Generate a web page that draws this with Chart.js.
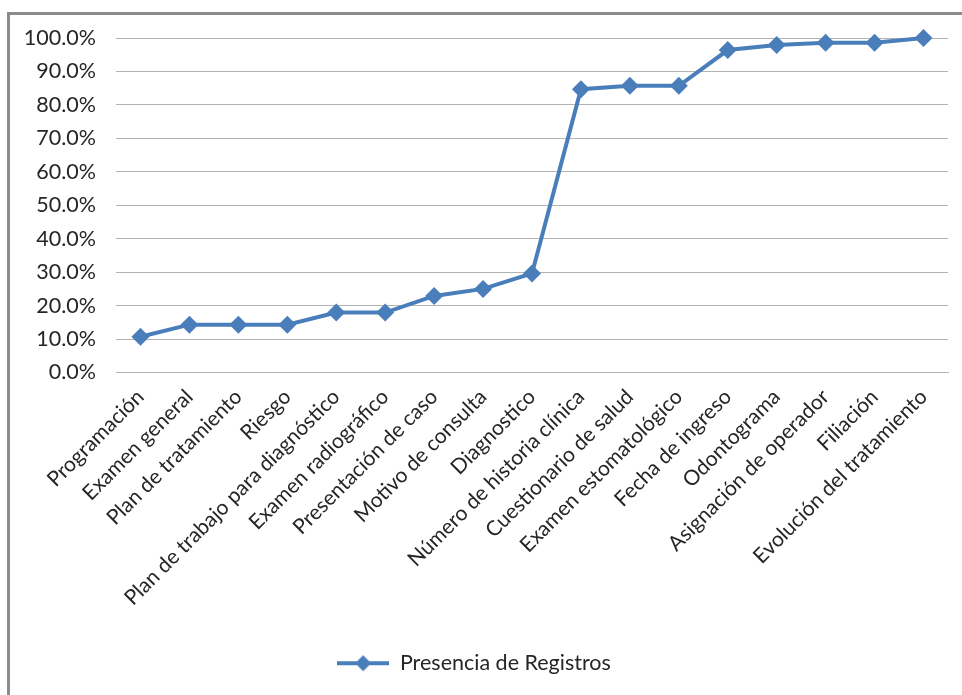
<!DOCTYPE html>
<html>
<head>
<meta charset="utf-8">
<script src="https://cdn.jsdelivr.net/npm/chart.js@4"></script>
<style>
  html, body { margin: 0; padding: 0; background: #fff; overflow: hidden; }
  #frame {
    position: absolute; left: 7px; top: 12px; width: 1000px; height: 720px;
    border-left: 3px solid #8c8c8c; border-top: 3px solid #8c8c8c;
  }
  #chart { position: absolute; left: 0; top: 0; }
</style>
</head>
<body>
<div id="frame"></div>
<canvas id="chart" width="962" height="695"></canvas>
<script>
const categories = [
  "Programación", "Examen general", "Plan de tratamiento", "Riesgo",
  "Plan de trabajo para diagnóstico", "Examen radiográfico", "Presentación de caso",
  "Motivo de consulta", "Diagnostico", "Número de historia clínica",
  "Cuestionario de salud", "Examen estomatológico", "Fecha de ingreso",
  "Odontograma", "Asignación de operador", "Filiación", "Evolución del tratamiento"
];
const presencia = [10.7, 14.3, 14.3, 14.3, 17.9, 17.9, 22.9, 25.0, 29.6, 84.7, 85.7, 85.7, 96.4, 97.9, 98.6, 98.6, 100.0];
const seriesName = "Presencia de Registros";

const blue = "#4a7ebb";
const font = "Lato, 'Open Sans', sans-serif";

// legend marker: line with diamond, like the spreadsheet legend
const marker = document.createElement("canvas");
marker.width = 52;
marker.height = 20;
const mctx = marker.getContext("2d");
mctx.strokeStyle = blue;
mctx.lineWidth = 4;
mctx.beginPath();
mctx.moveTo(0, 10);
mctx.lineTo(52, 10);
mctx.stroke();
mctx.fillStyle = blue;
mctx.beginPath();
mctx.moveTo(26, 2);
mctx.lineTo(34, 10);
mctx.lineTo(26, 18);
mctx.lineTo(18, 10);
mctx.closePath();
mctx.fill();

new Chart(document.getElementById("chart"), {
  type: "line",
  data: {
    labels: categories,
    datasets: [{
      label: seriesName,
      data: presencia,
      borderColor: blue,
      backgroundColor: blue,
      borderWidth: 4,
      pointStyle: "rectRot",
      pointRadius: 9,
      pointHoverRadius: 9,
      pointBorderWidth: 0,
      tension: 0,
      fill: false,
      clip: false
    }]
  },
  options: {
    responsive: false,
    animation: false,
    layout: { padding: { left: 0, right: 14, top: 38, bottom: 11 } },
    scales: {
      x: {
        offset: true,
        grid: { display: false },
        border: { color: "#b3b3b3", width: 1 },
        ticks: {
          autoSkip: false,
          minRotation: 45,
          maxRotation: 45,
          color: "#262626",
          padding: 4,
          font: { family: font, size: 21 }
        },
        afterFit: (scale) => { scale.height = 270; }
      },
      y: {
        min: 0,
        max: 100,
        border: { display: false },
        grid: { color: "#b3b3b3", lineWidth: 1, drawTicks: false },
        ticks: {
          stepSize: 10,
          color: "#262626",
          padding: 20,
          font: { family: font, size: 21.5 },
          callback: (v) => v.toFixed(1) + "%"
        },
        afterFit: (scale) => { scale.width = 116; }
      }
    },
    plugins: {
      tooltip: { enabled: false },
      legend: {
        position: "bottom",
        labels: {
          usePointStyle: true,
          pointStyle: marker,
          pointStyleWidth: 52,
          color: "#262626",
          padding: 10,
          font: { family: font, size: 21.5 }
        }
      }
    }
  }
});
</script>
</body>
</html>
